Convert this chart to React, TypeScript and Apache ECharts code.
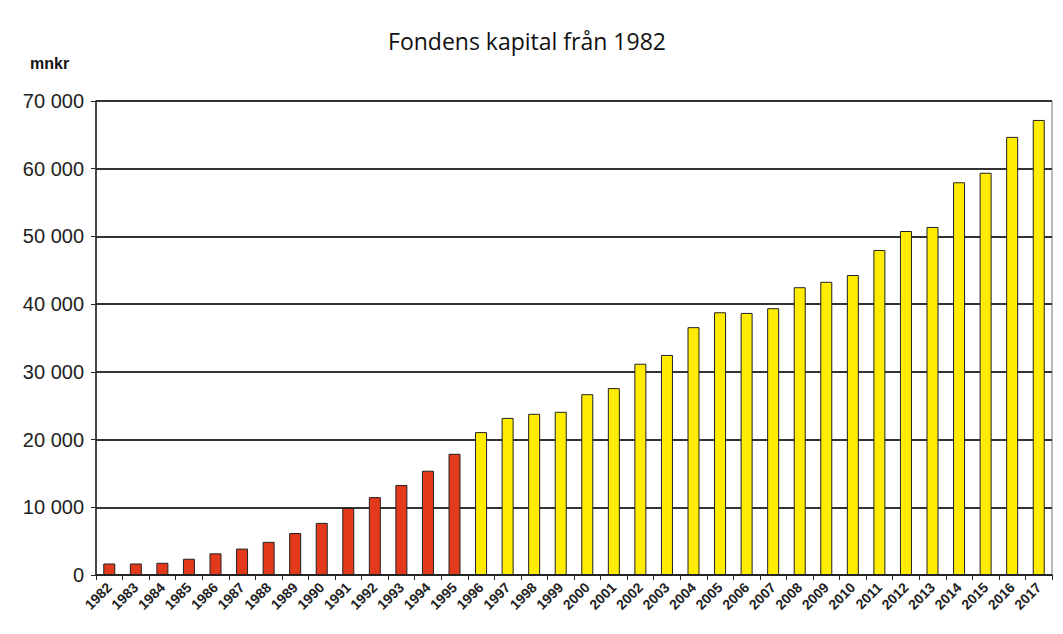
import React, { useEffect, useRef } from "react";
import * as echarts from "echarts";

const years = [
  "1982","1983","1984","1985","1986","1987","1988","1989","1990","1991","1992","1993",
  "1994","1995","1996","1997","1998","1999","2000","2001","2002","2003","2004","2005",
  "2006","2007","2008","2009","2010","2011","2012","2013","2014","2015","2016","2017",
];

// 1982–1995 (red)
const redValues = [1700, 1700, 1800, 2400, 3200, 3900, 4900, 6200, 7700, 9900, 11500, 13300, 15400, 17900];
// 1996–2017 (yellow)
const yellowValues = [
  21100, 23200, 23800, 24100, 26700, 27600, 31200, 32500, 36600, 38800, 38700,
  39400, 42500, 43300, 44300, 48000, 50800, 51400, 58000, 59400, 64700, 67200,
];

const title = "Fondens kapital från 1982";
const unitLabel = "mnkr";

export default function App() {
  const ref = useRef<HTMLDivElement>(null);
  useEffect(() => {
    if (!ref.current) return;
    const chart = echarts.init(ref.current, undefined, { renderer: "svg" });
    const red = years.map((_, i) => (i < redValues.length ? redValues[i] : "-"));
    const yellow = years.map((_, i) =>
      i >= redValues.length ? yellowValues[i - redValues.length] : "-"
    );
    chart.setOption({
      animation: false,
      backgroundColor: "#ffffff",
      textStyle: { fontFamily: "Liberation Sans, Arial, sans-serif" },
      title: {
        text: title,
        left: 522,
        top: 24,
        textAlign: "center",
        textStyle: { fontSize: 23, fontWeight: "normal", color: "#111", fontFamily: "Open Sans, sans-serif" },
      },
      graphic: [
        {
          type: "text",
          left: 30,
          top: 55,
          style: { text: unitLabel, fontSize: 16, fontWeight: "bold", fill: "#111", fontFamily: "Liberation Sans, Arial" },
        },
        {
          type: "rect",
          shape: { x: 96, y: 101, width: 956, height: 474 },
          style: { fill: "none", stroke: "#777", lineWidth: 1 },
          z: 0,
        },
      ],
      grid: { left: 96, right: 11, top: 101, bottom: 59, containLabel: false },
      xAxis: {
        type: "category",
        data: years,
        boundaryGap: true,
        axisLine: { lineStyle: { color: "#222", width: 1.5 } },
        axisTick: { show: true, length: 5, lineStyle: { color: "#222" } },
        axisLabel: {
          rotate: 45,
          interval: 0,
          fontSize: 14,
          fontWeight: "bold",
          color: "#222",
          margin: 10,
        },
      },
      yAxis: {
        type: "value",
        min: 0,
        max: 70000,
        interval: 10000,
        axisLine: { show: true, lineStyle: { color: "#222", width: 1.5 } },
        axisTick: { show: true, length: 5, lineStyle: { color: "#222" } },
        axisLabel: {
          fontSize: 20,
          color: "#222",
          margin: 12,
          formatter: (v: number) => {
            const s = String(v);
            return s.length > 3 ? s.slice(0, s.length - 3) + " " + s.slice(-3) : s;
          },
        },
        splitLine: { lineStyle: { color: "#333", width: 2 } },
      },
      series: [
        {
          type: "bar",
          data: red,
          barWidth: 12,
          barGap: "-100%",
          itemStyle: { color: "#e43a1c", borderColor: "#222", borderWidth: 1 },
        },
        {
          type: "bar",
          data: yellow,
          barWidth: 12,
          barGap: "-100%",
          itemStyle: { color: "#ffec00", borderColor: "#222", borderWidth: 1 },
        },
      ],
    });
    return () => chart.dispose();
  }, []);
  return <div ref={ref} style={{ width: 1063, height: 634, margin: -8 }} />;
}
